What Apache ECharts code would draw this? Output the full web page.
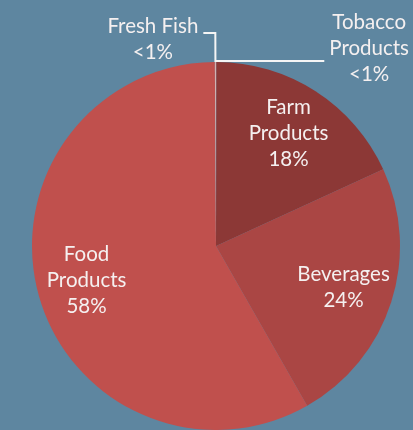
<!DOCTYPE html>
<html>
<head>
<meta charset="utf-8">
<script src="https://cdn.jsdelivr.net/npm/echarts@6/dist/echarts.min.js"></script>
<style>
html, body { margin: 0; padding: 0; background: #5e86a0; }
#pie { width: 413px; height: 430px; }
</style>
</head>
<body>
<div id="pie"></div>
<script>
var myChartPie = echarts.init(document.getElementById('pie'));

// clockwise from 12 o'clock
var names = ['Tobacco\nProducts', 'Farm\nProducts', 'Beverages', 'Food\nProducts', 'Fresh Fish'];
var values = [0.05, 18.1, 23.6, 58.15, 0.1];
var pctLabels = ['<1%', '18%', '24%', '58%', '<1%'];
var colors = ['#b85a57', '#8c3836', '#aa4644', '#c0504d', '#cfb3b3'];
var small = [true, false, false, false, true];

var textColor = '#f5f0f0';
var fontFamily = 'Lato, "Open Sans", sans-serif';

function fmt(i) {
    var lines = names[i].split('\n').concat([pctLabels[i]]);
    return lines.map(function (s) { return '{c|' + s + '}'; }).join('\n');
}

var rich = {
    c: {
        color: textColor,
        fontFamily: fontFamily,
        fontSize: 20.5,
        lineHeight: 26,
        align: 'center'
    }
};

var outerLines = {
    0: { length: 1, length2: 108, pad: [0, 0, 26, 0] },
    4: { length: 29, length2: 12, pad: [12, 0, 0, 0] }
};

var pieData = [];
var labelData = [];
for (var i = 0; i < names.length; i++) {
    var item = {
        value: values[i],
        name: names[i],
        itemStyle: { color: colors[i] }
    };
    if (small[i]) {
        item.label = {
            show: true,
            position: 'outside',
            formatter: fmt(i),
            rich: rich,
            padding: outerLines[i].pad
        };
        item.labelLine = {
            show: true,
            length: outerLines[i].length,
            length2: outerLines[i].length2,
            lineStyle: { color: '#f5f5f5', width: 2 }
        };
    } else {
        item.label = { show: false };
        item.labelLine = { show: false };
    }
    pieData.push(item);

    labelData.push({
        value: values[i],
        name: names[i],
        label: {
            show: !small[i],
            position: 'inside',
            formatter: fmt(i),
            rich: rich
        }
    });
}

var option = {
    backgroundColor: '#5e86a0',
    animation: false,
    tooltip: { show: false },
    legend: { show: false },
    series: [{
        name: 'share',
        type: 'pie',
        center: [216, 246],
        radius: [0, 184],
        startAngle: 90,
        clockwise: true,
        avoidLabelOverlap: false,
        itemStyle: { borderWidth: 0 },
        labelLine: { minTurnAngle: 0, maxSurfaceAngle: 180 },
        emphasis: { disabled: true },
        data: pieData
    }, {
        name: 'labels',
        type: 'pie',
        center: [216, 246],
        radius: [78, 184],
        startAngle: 90,
        clockwise: true,
        silent: true,
        avoidLabelOverlap: false,
        itemStyle: { color: 'rgba(0,0,0,0)', borderWidth: 0 },
        labelLine: { show: false },
        emphasis: { disabled: true },
        data: labelData
    }]
};

myChartPie.setOption(option);
window.onresize = myChartPie.resize;
</script>
</body>
</html>
